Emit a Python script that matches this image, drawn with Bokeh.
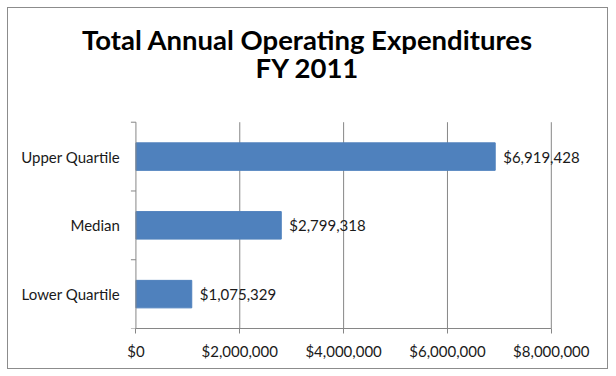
from bokeh.plotting import figure
from bokeh.models import ColumnDataSource, FixedTicker, NumeralTickFormatter, LabelSet, Label, Range1d
from bokeh.core.properties import value
from bokeh.embed import file_html
from bokeh.resources import INLINE

categories = ["Lower Quartile", "Median", "Upper Quartile"]
values = [1075329, 2799318, 6919428]
x_ticks = [0, 2000000, 4000000, 6000000, 8000000]
title_lines = ["Total Annual Operating Expenditures", "FY 2011"]

FONT = "Lato"
GRAY = "#868686"
n = len(categories)
x_max = x_ticks[-1]

# layout in content pixels
W, H = 599, 360
R_pad, B = 2, 42
axis_px = 127          # position of value 0
span_px = 414          # width of 0..x_max
plot_top = 113         # top of the category band
frame_w = W - R_pad
frame_h = H - B
upx = x_max / span_px                     # data units per pixel (x)
x_start = -axis_px * upx
x_end = (frame_w - axis_px) * upx
y_end = n * frame_h / (frame_h - plot_top)
tick_len = 5 * upx

pos = [i + 0.5 for i in range(n)]
src = ColumnDataSource(dict(y=pos, v=values, cat=categories, x0=[0] * n,
                            txt=["${:,}".format(v) for v in values]))
grid_src = ColumnDataSource(dict(x=x_ticks[1:], y0=[0] * (len(x_ticks) - 1),
                                 y1=[n] * (len(x_ticks) - 1)))
bounds = list(range(n + 1))
ytick_src = ColumnDataSource(dict(y=bounds, x0=[-tick_len] * len(bounds), x1=[0] * len(bounds)))

p = figure(width=W + 2, height=H + 2, output_backend="svg", toolbar_location=None,
           x_range=Range1d(x_start, x_end), y_range=Range1d(0, y_end),
           min_border_left=0, min_border_right=R_pad, min_border_top=0, min_border_bottom=B)
p.title = None
p.outline_line_color = None
p.styles = {"border": "1px solid #8c8c8c", "box-sizing": "border-box",
            "margin-left": "7px", "margin-top": "7px"}
p.xgrid.grid_line_color = None
p.ygrid.grid_line_color = None
p.yaxis.visible = False

# vertical gridlines
p.segment(x0="x", y0="y0", x1="x", y1="y1", source=grid_src, line_color=GRAY, line_width=1)
# bars
p.hbar(y="y", right="v", left=0, height=0.4, source=src, color="#4F81BD")
# category axis: line, boundary ticks, labels
p.segment(x0=0, y0=0, x1=0, y1=n, line_color=GRAY, line_width=1)
p.segment(x0="x0", y0="y", x1="x1", y1="y", source=ytick_src, line_color=GRAY, line_width=1)
p.text(x="x0", y="y", text="cat", source=src, x_offset=-16, text_align="right",
       text_baseline="middle", text_font=value(FONT), text_font_size="15px",
       text_color="#1a1a1a")

# value labels
p.add_layout(LabelSet(x="v", y="y", text="txt", source=src, x_offset=8,
                      text_baseline="middle", text_font=value(FONT), text_font_size="15px",
                      text_color="#1a1a1a"))

# value axis
p.xaxis.bounds = (0, x_max)
p.xaxis.ticker = FixedTicker(ticks=x_ticks)
p.xaxis.formatter = NumeralTickFormatter(format="$0,0")
p.xaxis.axis_line_color = GRAY
p.xaxis.major_tick_line_color = GRAY
p.xaxis.major_tick_out = 5
p.xaxis.major_tick_in = 0
p.xaxis.minor_tick_line_color = None
p.xaxis.major_label_standoff = 8
p.xaxis.major_label_text_font = FONT
p.xaxis.major_label_text_font_size = "15px"
p.xaxis.major_label_text_color = "#1a1a1a"

# title
for txt, yy in zip(title_lines, [289, 261]):
    p.add_layout(Label(x=299, y=yy, x_units="screen", y_units="screen", text=txt,
                       text_align="center", text_baseline="alphabetic",
                       text_font=FONT, text_font_style="bold", text_font_size="27.5px",
                       text_color="black"))

open("out.html", "w").write(file_html(p, INLINE))
